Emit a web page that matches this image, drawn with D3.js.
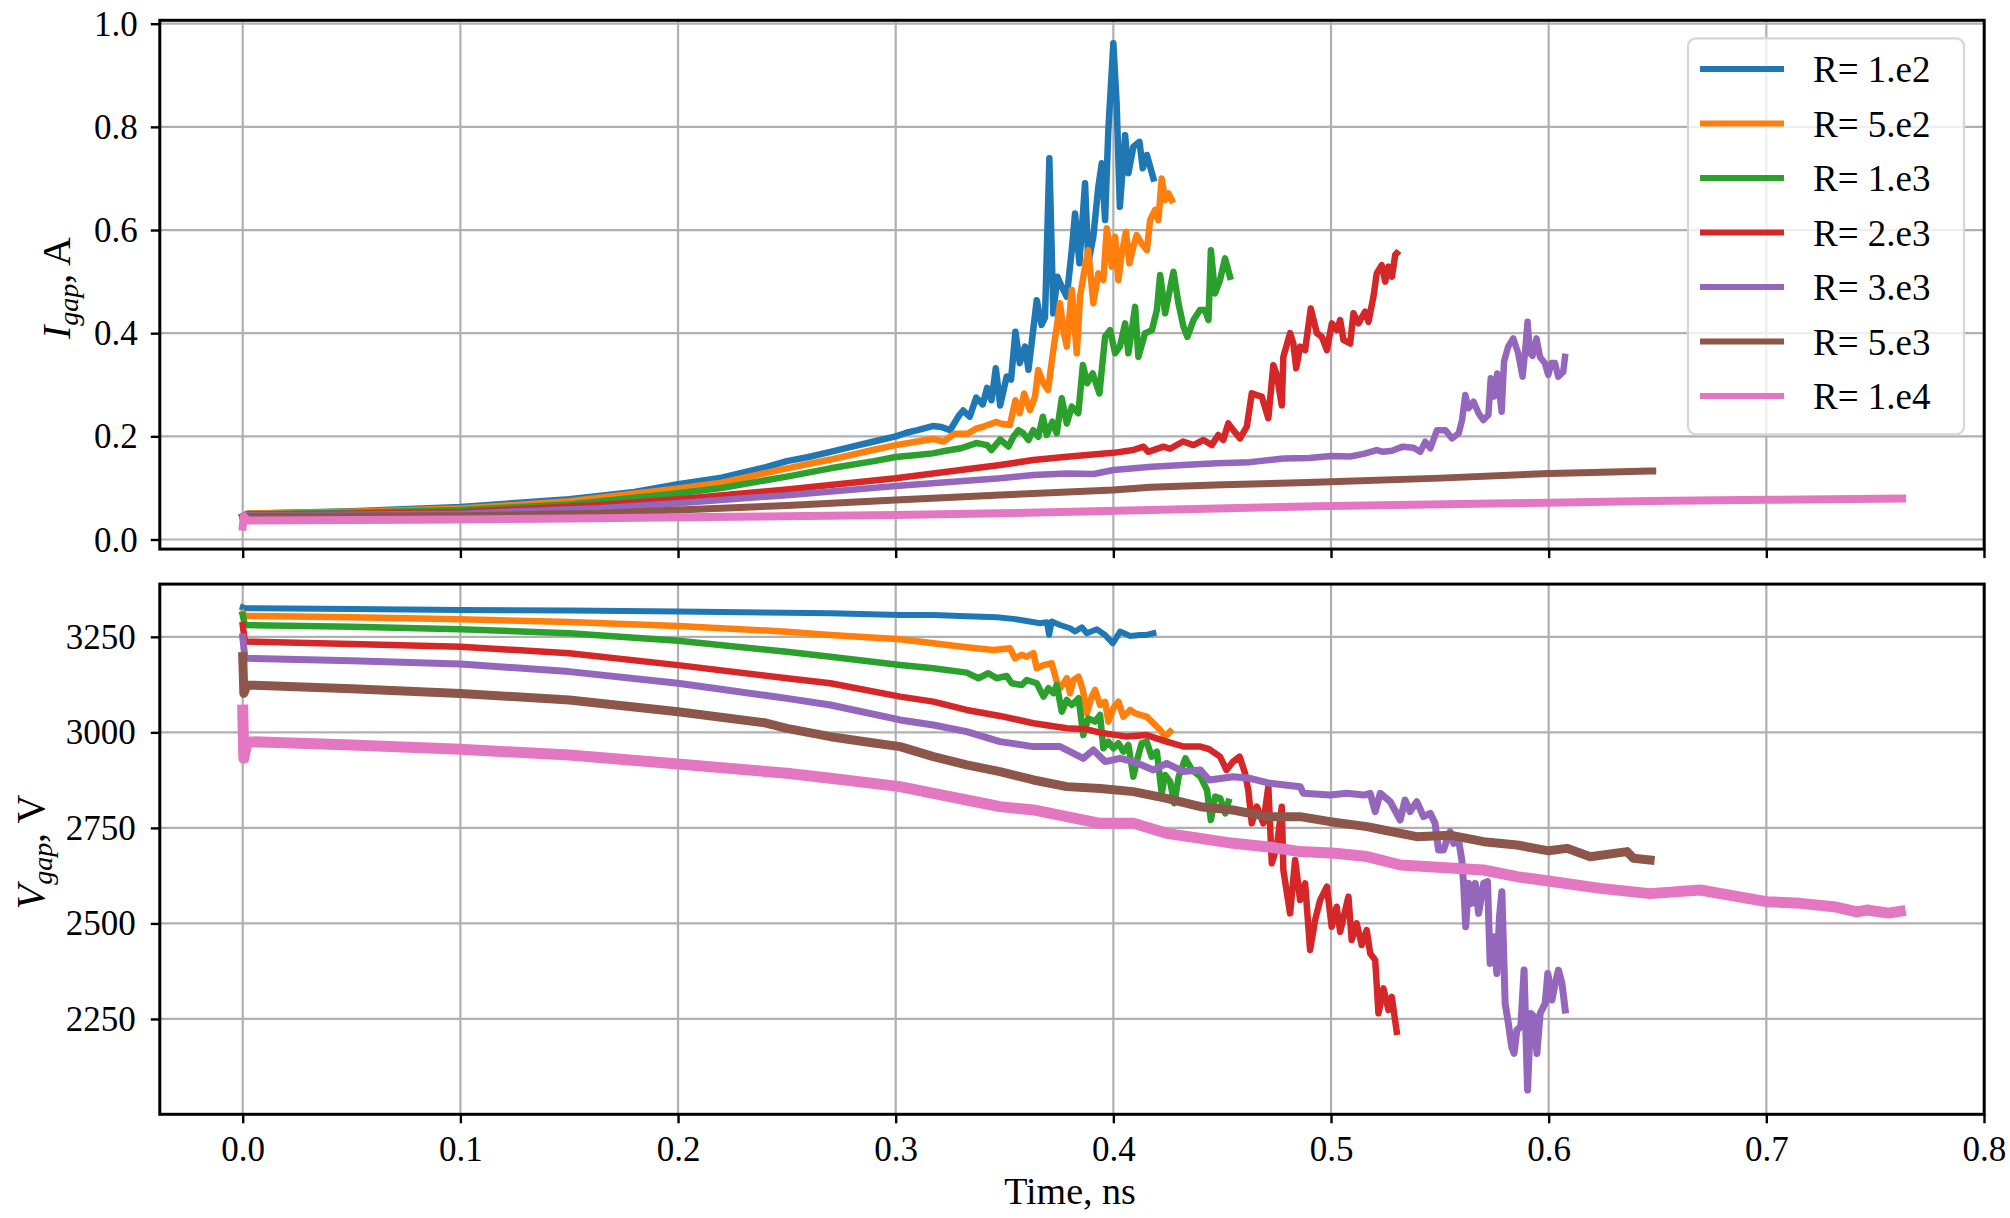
<!DOCTYPE html>
<html><head><meta charset="utf-8">
<script src="https://cdn.jsdelivr.net/npm/d3@7"></script>
<style>
body{margin:0;background:#fff}
svg{display:block}
text{font-family:"Liberation Serif","Times New Roman",serif !important;fill:#000}
</style>
</head><body>
<svg id="chart" width="2010" height="1218"></svg>
<script>
// ---------------- data ----------------
const seriesLabels = ["R= 1.e2","R= 5.e2","R= 1.e3","R= 2.e3","R= 3.e3","R= 5.e3","R= 1.e4"];
const timeTicks = [0,0.1,0.2,0.3,0.4,0.5,0.6,0.7,0.8];
const currentTicks = [0,0.2,0.4,0.6,0.8,1.0];
const voltageTicks = [2250,2500,2750,3000,3250];

// I_gap [time ns, current A]
const I_R1e2 = [[0,0.045],[0.002,0.05],[0.05,0.055],[0.1,0.063],[0.15,0.078],[0.18,0.092],[0.2,0.107],[0.22,0.12],[0.24,0.14],[0.25,0.152],[0.26,0.16],[0.27,0.17],[0.28,0.18],[0.29,0.19],[0.3,0.2],[0.305,0.207],[0.31,0.212],[0.317,0.22],[0.321,0.218],[0.325,0.212],[0.329,0.24],[0.331,0.25],[0.334,0.238],[0.337,0.275],[0.34,0.262],[0.342,0.294],[0.344,0.27],[0.346,0.332],[0.348,0.26],[0.351,0.316],[0.353,0.31],[0.355,0.403],[0.357,0.342],[0.3594,0.374],[0.361,0.329],[0.3648,0.464],[0.367,0.416],[0.3686,0.43],[0.3706,0.739],[0.3724,0.4385],[0.3743,0.5095],[0.3763,0.49],[0.3786,0.4707],[0.3809,0.561],[0.3824,0.632],[0.3844,0.5355],[0.387,0.6906],[0.3885,0.5355],[0.3908,0.587],[0.3931,0.684],[0.3947,0.7294],[0.3962,0.6194],[0.3977,0.794],[0.4,0.962],[0.4015,0.8457],[0.403,0.645],[0.4054,0.784],[0.4069,0.71],[0.4092,0.7616],[0.412,0.771],[0.4135,0.7196],[0.4154,0.7455],[0.4184,0.7]];
const I_R5e2 = [[0,0.045],[0.002,0.05],[0.05,0.054],[0.1,0.06],[0.15,0.074],[0.2,0.099],[0.22,0.11],[0.25,0.138],[0.27,0.155],[0.29,0.174],[0.3,0.183],[0.31,0.19],[0.317,0.195],[0.322,0.19],[0.327,0.205],[0.333,0.205],[0.337,0.215],[0.341,0.22],[0.3464,0.228],[0.348,0.225],[0.3525,0.222],[0.355,0.27],[0.357,0.245],[0.359,0.283],[0.3617,0.251],[0.364,0.277],[0.3655,0.3286],[0.3678,0.303],[0.37,0.29],[0.3724,0.367],[0.374,0.4126],[0.3755,0.458],[0.377,0.406],[0.3786,0.374],[0.3809,0.4837],[0.3832,0.361],[0.3847,0.4707],[0.387,0.529],[0.3885,0.561],[0.3908,0.458],[0.3931,0.516],[0.3954,0.503],[0.397,0.6033],[0.3993,0.529],[0.4008,0.587],[0.4023,0.503],[0.4039,0.555],[0.4058,0.5968],[0.4074,0.5355],[0.4092,0.5677],[0.4107,0.59],[0.413,0.574],[0.4154,0.561],[0.4169,0.6194],[0.4192,0.639],[0.4207,0.619],[0.4222,0.7],[0.4238,0.658],[0.4253,0.671],[0.4268,0.658]];
const I_R1e3 = [[0,0.045],[0.002,0.049],[0.05,0.052],[0.1,0.057],[0.15,0.068],[0.2,0.0895],[0.22,0.1],[0.25,0.122],[0.27,0.138],[0.29,0.152],[0.3,0.16],[0.31,0.164],[0.317,0.167],[0.323,0.172],[0.33,0.177],[0.337,0.187],[0.342,0.183],[0.344,0.1735],[0.348,0.194],[0.3518,0.18],[0.354,0.199],[0.3564,0.212],[0.3586,0.206],[0.361,0.193],[0.3632,0.212],[0.3655,0.199],[0.3676,0.238],[0.3694,0.2026],[0.372,0.2284],[0.374,0.206],[0.3763,0.2737],[0.3786,0.225],[0.3809,0.2575],[0.3839,0.2447],[0.386,0.3383],[0.388,0.303],[0.3905,0.322],[0.3936,0.283],[0.3962,0.393],[0.3985,0.406],[0.4008,0.361],[0.403,0.374],[0.4054,0.419],[0.4069,0.361],[0.41,0.451],[0.4115,0.354],[0.4146,0.4],[0.4177,0.406],[0.42,0.445],[0.4215,0.513],[0.4238,0.4386],[0.4253,0.4707],[0.4276,0.519],[0.4299,0.458],[0.4322,0.4126],[0.434,0.393],[0.4368,0.4255],[0.4398,0.445],[0.4421,0.445],[0.4437,0.4255],[0.4448,0.561],[0.4467,0.477],[0.449,0.503],[0.4513,0.545],[0.4536,0.5095]];
const I_R2e3 = [[0,0.045],[0.002,0.048],[0.05,0.05],[0.1,0.053],[0.164,0.067],[0.2,0.078],[0.25,0.097],[0.3,0.1186],[0.348,0.1444],[0.3632,0.154],[0.3786,0.1606],[0.4,0.168],[0.4092,0.1735],[0.4138,0.18],[0.416,0.17],[0.423,0.18],[0.426,0.176],[0.432,0.19],[0.4368,0.183],[0.4414,0.193],[0.4452,0.183],[0.4482,0.2026],[0.4505,0.193],[0.4528,0.225],[0.4551,0.212],[0.4582,0.196],[0.4613,0.2187],[0.4636,0.2834],[0.4659,0.28],[0.4682,0.277],[0.4712,0.235],[0.4735,0.338],[0.4751,0.319],[0.4774,0.26],[0.4781,0.354],[0.4812,0.4],[0.4827,0.38],[0.484,0.332],[0.4858,0.374],[0.4881,0.367],[0.4907,0.448],[0.4935,0.4],[0.4958,0.393],[0.4981,0.367],[0.5004,0.419],[0.5027,0.406],[0.5042,0.4255],[0.5057,0.387],[0.5088,0.38],[0.5103,0.4386],[0.5126,0.419],[0.5157,0.4418],[0.5172,0.422],[0.5195,0.4707],[0.521,0.516],[0.5233,0.532],[0.5249,0.5],[0.5264,0.529],[0.528,0.5095],[0.5295,0.5516],[0.5302,0.555]];
const I_R3e3 = [[0,0.044],[0.002,0.047],[0.05,0.048],[0.1,0.05],[0.164,0.0605],[0.2,0.0702],[0.25,0.086],[0.3,0.1037],[0.348,0.1186],[0.3632,0.125],[0.3786,0.128],[0.391,0.127],[0.4,0.1347],[0.4177,0.141],[0.432,0.1444],[0.4475,0.1477],[0.4628,0.15],[0.4781,0.157],[0.49,0.158],[0.5,0.162],[0.5088,0.161],[0.515,0.166],[0.521,0.1735],[0.524,0.17],[0.528,0.172],[0.533,0.18],[0.5379,0.178],[0.541,0.17],[0.5433,0.1896],[0.5456,0.1768],[0.5487,0.212],[0.5525,0.212],[0.5556,0.196],[0.5587,0.206],[0.5602,0.2317],[0.5617,0.2802],[0.5632,0.2544],[0.5655,0.267],[0.5678,0.2447],[0.57,0.2317],[0.5723,0.2414],[0.5734,0.3125],[0.5749,0.277],[0.5764,0.322],[0.5784,0.2478],[0.5795,0.3447],[0.5814,0.374],[0.5837,0.39],[0.586,0.361],[0.588,0.3156],[0.5891,0.361],[0.5903,0.422],[0.5914,0.361],[0.5926,0.356],[0.5944,0.39],[0.596,0.354],[0.5983,0.3416],[0.5998,0.319],[0.6013,0.342],[0.6029,0.342],[0.6044,0.3156],[0.6067,0.325],[0.6075,0.354]];
const I_R5e3 = [[0,0.043],[0.002,0.045],[0.1,0.046],[0.164,0.0508],[0.2,0.057],[0.25,0.066],[0.3,0.0766],[0.348,0.0863],[0.4,0.096],[0.4169,0.1012],[0.45,0.106],[0.485,0.11],[0.5,0.112],[0.55,0.119],[0.6,0.128],[0.62,0.13],[0.6464,0.133],[0.6478,0.133]];
const I_R1e4 = [[0,0.025],[0.0005,0.045],[0.002,0.037],[0.1,0.039],[0.164,0.041],[0.2,0.043],[0.3,0.0475],[0.348,0.0508],[0.417,0.057],[0.5,0.065],[0.6,0.0714],[0.646,0.0746],[0.7,0.077],[0.7624,0.0793]];

// V_gap [time ns, voltage V]
const V_R1e2 = [[0,3327],[0.001,3325],[0.05,3323],[0.1,3320],[0.15,3318.6],[0.2,3316],[0.25,3313],[0.27,3311.8],[0.302,3307.3],[0.3173,3307],[0.3326,3304],[0.3464,3301],[0.354,3297],[0.3602,3291.6],[0.3663,3285.5],[0.3694,3288],[0.3705,3255],[0.3717,3290],[0.3755,3281],[0.3801,3272.5],[0.3824,3264],[0.3855,3275],[0.3878,3259.4],[0.3924,3270],[0.3962,3255],[0.3997,3233],[0.4031,3263.7],[0.4077,3252.4],[0.4123,3255],[0.4153,3255],[0.4184,3259.4]];
const V_R5e2 = [[0,3312],[0.001,3305],[0.05,3301],[0.1,3296],[0.15,3289],[0.2,3278.5],[0.25,3263.6],[0.27,3255],[0.302,3243.7],[0.3173,3233.2],[0.3326,3222.7],[0.3449,3215.7],[0.3525,3220],[0.3548,3193.9],[0.3579,3203],[0.3602,3198],[0.3633,3207],[0.3648,3167.7],[0.3679,3176],[0.3717,3180.8],[0.374,3132.8],[0.3755,3115],[0.3786,3141.6],[0.3801,3102.3],[0.3817,3137],[0.384,3146],[0.386,3111],[0.3878,3050],[0.3901,3094],[0.3916,3111],[0.3939,3071.8],[0.3962,3080],[0.3977,3028],[0.4,3063],[0.4023,3080.5],[0.4046,3041],[0.4077,3058.7],[0.41,3050],[0.4123,3045.6],[0.4153,3041],[0.4184,3023.8],[0.4215,3006.3],[0.4238,2988.9],[0.4261,3002]];
const V_R1e3 = [[0,3307],[0.001,3281],[0.05,3276.7],[0.1,3270],[0.15,3259.4],[0.2,3240],[0.25,3211],[0.27,3198],[0.302,3176.5],[0.3173,3167.7],[0.3326,3156.4],[0.338,3141.6],[0.3426,3154.7],[0.3464,3141.6],[0.351,3147.7],[0.3533,3128.5],[0.3579,3124],[0.3602,3137],[0.3648,3128.5],[0.3679,3093.6],[0.3702,3115.4],[0.3725,3102.3],[0.374,3124],[0.3763,3054.3],[0.3786,3084.8],[0.3809,3071.7],[0.384,3089.2],[0.3862,2993.2],[0.3885,3036.8],[0.3916,3028],[0.3939,3045.6],[0.3954,2958.3],[0.3977,2975.8],[0.4,2958.3],[0.4023,2971.4],[0.4046,2949.6],[0.4069,2967],[0.4092,2884.1],[0.4111,2932],[0.413,2971.4],[0.4153,2975.8],[0.4176,2936.5],[0.42,2949.6],[0.4222,2840.5],[0.4238,2888.5],[0.4261,2871],[0.428,2814.3],[0.43,2884],[0.4331,2932],[0.4361,2901.6],[0.44,2884],[0.443,2849.2],[0.4448,2770.7],[0.4468,2831.8],[0.4491,2827.4],[0.4514,2788.2],[0.4529,2818.7]];
const V_R2e3 = [[0,3281],[0.001,3237.5],[0.05,3231.4],[0.1,3224],[0.15,3207],[0.2,3176],[0.25,3141.6],[0.27,3128.5],[0.302,3093.6],[0.3173,3080.5],[0.3326,3058.7],[0.3479,3043],[0.3633,3023.8],[0.3786,3010.7],[0.3878,3008],[0.3939,2999.3],[0.4062,2988.9],[0.4153,2993],[0.4245,2975.8],[0.4322,2963],[0.44,2962.7],[0.444,2956],[0.449,2936.5],[0.452,2901.6],[0.455,2923.5],[0.458,2936.5],[0.4605,2892.9],[0.462,2849],[0.4636,2762],[0.4659,2806],[0.4689,2761.9],[0.4712,2857.9],[0.4728,2657.2],[0.4751,2700.8],[0.4774,2805.6],[0.4781,2639.8],[0.4812,2526.3],[0.4835,2666],[0.4858,2561.3],[0.4881,2604.9],[0.4904,2430.3],[0.4927,2508.9],[0.495,2561],[0.4981,2596],[0.5003,2491.4],[0.5026,2543.8],[0.5042,2478.3],[0.508,2570],[0.5095,2456.5],[0.5118,2500],[0.5141,2443.4],[0.5164,2482.7],[0.518,2421.6],[0.5203,2404],[0.5218,2264.6],[0.5241,2330],[0.5264,2273.3],[0.5279,2308],[0.5302,2216.6]];
const V_R3e3 = [[0,3250],[0.001,3194],[0.05,3187.7],[0.1,3179],[0.15,3159],[0.2,3128.5],[0.25,3089],[0.27,3071.7],[0.302,3032.5],[0.3173,3019.4],[0.3326,3002],[0.3479,2975.8],[0.3633,2962.7],[0.3755,2962.7],[0.3862,2932],[0.3908,2954],[0.3962,2923.5],[0.4031,2932],[0.4092,2923.5],[0.4184,2901.6],[0.4245,2919],[0.4322,2897.3],[0.44,2901.6],[0.444,2875.4],[0.455,2884],[0.4628,2879.7],[0.472,2866.6],[0.4858,2857.9],[0.4873,2840.5],[0.4996,2836],[0.5073,2840.5],[0.515,2836],[0.518,2840.5],[0.5203,2792.5],[0.5226,2840.5],[0.5272,2818.7],[0.5318,2770.7],[0.534,2823],[0.5363,2792.5],[0.5394,2818.7],[0.5425,2779.4],[0.5456,2788],[0.5478,2761.9],[0.5494,2692.1],[0.5517,2692.1],[0.5532,2718.3],[0.5547,2740],[0.5563,2709.6],[0.5586,2718.3],[0.5601,2666],[0.5609,2604.9],[0.5619,2491.4],[0.5632,2604.9],[0.5647,2552.5],[0.5663,2604.9],[0.5678,2526.3],[0.5701,2604.9],[0.5719,2609.2],[0.5731,2395.4],[0.5747,2465],[0.5762,2369],[0.5774,2517.6],[0.5785,2583],[0.58,2290.7],[0.5815,2238.3],[0.583,2177.3],[0.5841,2159.8],[0.5854,2221],[0.5872,2229.6],[0.5887,2378],[0.5903,2063.8],[0.5918,2264.5],[0.5933,2255.8],[0.5946,2159.8],[0.5961,2264.5],[0.5984,2290.7],[0.5996,2369],[0.6015,2299.4],[0.603,2343],[0.6045,2378],[0.6061,2343],[0.6076,2273.3]];
const V_R5e3 = [[0,3198],[0.0005,3102],[0.002,3124],[0.05,3114.4],[0.1,3102],[0.15,3084.8],[0.2,3054],[0.24,3025],[0.25,3010.6],[0.27,2988.7],[0.29,2972],[0.302,2962.7],[0.3173,2936.5],[0.3326,2914.7],[0.3479,2897.3],[0.3633,2875.4],[0.3786,2858],[0.3939,2853],[0.4092,2844.9],[0.4245,2827.4],[0.44,2805.6],[0.455,2796.9],[0.4705,2779.4],[0.4858,2779.4],[0.4996,2766.3],[0.5165,2753.3],[0.5241,2744.5],[0.5394,2727],[0.5547,2731],[0.5701,2713.9],[0.5854,2705.2],[0.6,2690],[0.6084,2696.5],[0.6191,2674.7],[0.636,2688],[0.639,2670.4],[0.6466,2666]];
const V_R1e4 = [[0,3058],[0.0005,2932],[0.002,2975.7],[0.05,2967],[0.1,2955.6],[0.15,2940.8],[0.2,2917],[0.25,2893],[0.27,2879.8],[0.302,2858],[0.3173,2840.5],[0.3326,2823],[0.3479,2805.6],[0.3633,2796.9],[0.3786,2779.4],[0.3939,2762],[0.4092,2762],[0.4245,2735.8],[0.44,2722.7],[0.455,2709.6],[0.4705,2700.9],[0.4858,2688],[0.5019,2683.4],[0.5165,2675],[0.532,2652.9],[0.5547,2645],[0.5701,2639.8],[0.5854,2622.3],[0.6,2611],[0.6237,2591.8],[0.6466,2578],[0.6696,2587.5],[0.7,2557],[0.7156,2552.5],[0.731,2543.8],[0.7416,2530],[0.7462,2535],[0.7562,2527],[0.7615,2532]];

const currentSeries = [I_R1e2,I_R5e2,I_R1e3,I_R2e3,I_R3e3,I_R5e3,I_R1e4];
const voltageSeries = [V_R1e2,V_R5e2,V_R1e3,V_R2e3,V_R3e3,V_R5e3,V_R1e4];

// ---------------- styles / layout ----------------
const colors = ["#1f77b4","#ff7f0e","#2ca02c","#d62728","#9467bd","#8c564b","#e377c2"];
const topWidths = [6.5,6.5,6.5,6.5,6.5,7,8];
const botWidths = [6,6.5,6.5,6.5,7,9,11];
const L = 159.8, R = 1984.2;
const topPanel = {y0: 20.3, y1: 549.1};
const botPanel = {y0: 584.1, y1: 1114.3};
const FONT = '"Liberation Serif", "Times New Roman", serif';

const svg = d3.select("#chart");
const x = d3.scaleLinear().domain([-0.0381, 0.8001]).range([L, R]);
const yI = d3.scaleLinear().domain([-0.0186, 1.0066]).range([topPanel.y1, topPanel.y0]);
const yV = d3.scaleLinear().domain([2000.5, 3388]).range([botPanel.y1, botPanel.y0]);

function panel(id, p, yScale, yTicks, yFmt, data, widths, showXLabels, yPad) {
  const g = svg.append("g");
  svg.append("clipPath").attr("id", id).append("rect")
    .attr("x", L).attr("y", p.y0).attr("width", R - L).attr("height", p.y1 - p.y0);
  const grid = g.append("g").attr("stroke", "#b0b0b0").attr("stroke-width", 2.2);
  grid.selectAll("line.vx").data(timeTicks).join("line")
    .attr("x1", d => x(d)).attr("x2", d => x(d)).attr("y1", p.y0).attr("y2", p.y1);
  grid.selectAll("line.hy").data(yTicks).join("line")
    .attr("x1", L).attr("x2", R).attr("y1", d => yScale(d)).attr("y2", d => yScale(d));
  const line = d3.line().x(d => x(d[0])).y(d => yScale(d[1]));
  const lg = g.append("g").attr("clip-path", `url(#${id})`);
  data.forEach((s, i) => {
    lg.append("path").attr("d", line(s)).attr("fill", "none")
      .attr("stroke", colors[i]).attr("stroke-width", widths[i])
      .attr("stroke-linejoin", "round").attr("stroke-linecap", "square");
  });
  const ax = d3.axisBottom(x).tickValues(timeTicks).tickSize(9).tickSizeOuter(0)
    .tickFormat(showXLabels ? d3.format(".1f") : () => "");
  const gx = g.append("g").attr("transform", `translate(0,${p.y1})`).call(ax)
    .attr("font-family", FONT).attr("font-size", 35);
  gx.select(".domain").remove();
  gx.selectAll(".tick line").attr("stroke", "#000").attr("stroke-width", 2.4);
  gx.selectAll(".tick text").style("font-family", FONT).style("font-size", "35px")
    .attr("y", 46.5).attr("dy", null);
  const ay = d3.axisLeft(yScale).tickValues(yTicks).tickSize(9).tickSizeOuter(0)
    .tickPadding(yPad).tickFormat(yFmt);
  const gy = g.append("g").attr("transform", `translate(${L},0)`).call(ay)
    .attr("font-family", FONT).attr("font-size", 35);
  gy.select(".domain").remove();
  gy.selectAll(".tick line").attr("stroke", "#000").attr("stroke-width", 2.4);
  gy.selectAll(".tick text").style("font-family", FONT).style("font-size", "35px").attr("dy", "0.33em");
  g.append("rect").attr("x", L).attr("y", p.y0).attr("width", R - L).attr("height", p.y1 - p.y0)
    .attr("fill", "none").attr("stroke", "#000").attr("stroke-width", 3);
  return g;
}

panel("clipTop", topPanel, yI, currentTicks, d3.format(".1f"), currentSeries, topWidths, false, 13);
panel("clipBot", botPanel, yV, voltageTicks, d3.format("d"), voltageSeries, botWidths, true, 15);

// legend
const leg = svg.append("g");
leg.append("rect").attr("x", 1688).attr("y", 38.3).attr("width", 276).attr("height", 396)
  .attr("rx", 8).attr("fill", "#fff").attr("fill-opacity", 0.8)
  .attr("stroke", "#d6d6d6").attr("stroke-width", 2.2);
seriesLabels.forEach((lab, i) => {
  const yy = 68.9 + i * 54.5;
  leg.append("line").attr("x1", 1700).attr("x2", 1784).attr("y1", yy).attr("y2", yy)
    .attr("stroke", colors[i]).attr("stroke-width", 6);
  leg.append("text").attr("x", 1813).attr("y", yy + 13.5).style("font-size", "37px").text(lab);
});

// axis labels
svg.append("text").attr("x", 1070).attr("y", 1204).attr("text-anchor", "middle")
  .style("font-size", "38px").text("Time, ns");

function yLabel(cx, cy, sym, unit) {
  const t = svg.append("text").attr("transform", `translate(${cx},${cy}) rotate(-90)`)
    .attr("text-anchor", "middle").style("font-size", "40px");
  t.append("tspan").attr("font-style", "italic").text(sym);
  t.append("tspan").attr("font-style", "italic").style("font-size", "28px").attr("dy", 8).text("gap");
  t.append("tspan").attr("dy", -8).text(", " + unit);
}
yLabel(70, 288, "I", "A");
yLabel(44, 852, "V", "V");
</script>
</body></html>
